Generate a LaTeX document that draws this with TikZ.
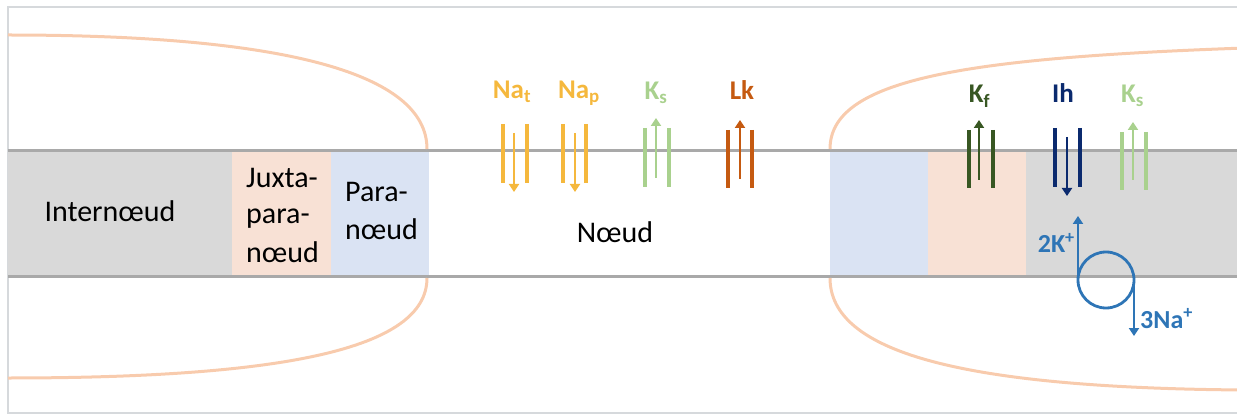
\documentclass[tikz,border=0pt]{standalone}
\usepackage{fontspec}
\setmainfont{Carlito}
\usetikzlibrary{arrows.meta}

\definecolor{bandgrey}{HTML}{D9D9D9}
\definecolor{bandline}{HTML}{A9A9A9}
\definecolor{juxtafill}{HTML}{F8E1D5}
\definecolor{parafill}{HTML}{DAE3F3}
\definecolor{myelin}{HTML}{F8CBAD}
\definecolor{framegrey}{HTML}{D6D9DC}
\definecolor{nacol}{HTML}{F5B83D}
\definecolor{kscol}{HTML}{A9D18E}
\definecolor{lkcol}{HTML}{C55A11}
\definecolor{kfcol}{HTML}{385723}
\definecolor{ihcol}{HTML}{0B2A6E}
\definecolor{pumpcol}{HTML}{2E75B6}

\tikzset{
  membrane/.style={bandline, line width=3pt},
  sheath/.style={myelin, line width=3pt},
  chanbar/.style={line width=3.5pt},
  flux/.style={line width=2.3pt, -{Triangle[width=10pt,length=8pt]}},
  pumpline/.style={pumpcol, line width=2.8pt},
  region/.style={inner sep=0pt, font=\fontsize{30}{36}\selectfont, anchor=base west},
  ionlabel/.style={inner sep=0pt, font=\bfseries\fontsize{27}{32}\selectfont, anchor=base},
  pumplabel/.style={inner sep=0pt, pumpcol, font=\bfseries\fontsize{26}{31}\selectfont},
}

% one channel: #1 colour, #2 left bar x, #3 right bar x, #4 bar top, #5 bar bottom,
% #6 flux x, #7 flux start y, #8 flux end y
\newcommand\ionchannel[8]{%
  \draw[chanbar, #1] (#2,#4) -- (#2,#5);
  \draw[chanbar, #1] (#3,#4) -- (#3,#5);
  \draw[flux, #1] (#6,#7) -- (#6,#8);
}

\begin{document}
\begin{tikzpicture}[x=1pt, y=-1pt]
\useasboundingbox (0,0) rectangle (1237,414);

% outer frame
\draw[framegrey, line width=1.5pt] (1245,7) -- (8,7) -- (8,413) -- (1245,413);

% axon compartments
\fill[bandgrey]  (8,151)   rectangle (232,276);
\fill[juxtafill] (232,151) rectangle (331,276);
\fill[parafill]  (331,151) rectangle (429,276);
\fill[parafill]  (830,151) rectangle (928,276);
\fill[juxtafill] (928,151) rectangle (1026,276);
\fill[bandgrey]  (1026,151) rectangle (1245,276);

% axon membrane
\draw[membrane] (8,151) -- (1245,151);
\draw[membrane] (8,276.5) -- (1245,276.5);

% myelin sheaths
\draw[sheath] (8,35) .. controls (280,35) and (427,72) .. (427,149);
\draw[sheath] (427,278) .. controls (427,350) and (280,378) .. (8,378);
\draw[sheath] (830,149) .. controls (830,80) and (960,58) .. (1245,48);
\draw[sheath] (830,278) .. controls (830,352) and (960,388) .. (1245,390);

% compartment names
\node[region, anchor=base] (inter) at (110,221.7) {Internœud};
\node[region] (jp1) at (246,188) {Juxta-};
\node[region] (jp2) at (246,224) {para-};
\node[region] (jp3) at (246,262) {nœud};
\node[region] (pn1) at (345,202) {Para-};
\node[region] (pn2) at (345,240) {nœud};
\node[region, anchor=base] (noeud) at (615,242.7) {Nœud};

% ion channels
\ionchannel{nacol}{503}{527}{124}{183}{514}{133}{192}
\ionchannel{nacol}{563}{586}{124}{183}{575}{133}{192}
\ionchannel{kscol}{645}{669}{128}{187}{656}{178}{118}
\ionchannel{lkcol}{728}{752}{130}{188}{740}{179}{120}
\ionchannel{kfcol}{969}{993}{130}{188}{979}{180}{120}
\ionchannel{ihcol}{1055}{1080}{128}{187}{1067}{137}{196}
\ionchannel{kscol}{1122}{1146}{132}{190}{1133}{180}{122}

% channel names
\node[ionlabel, nacol] (nat) at (512,99) {Na\textsubscript{t}};
\node[ionlabel, nacol] (nap) at (579,99) {Na\textsubscript{p}};
\node[ionlabel, kscol] (ks1) at (656,100) {K\textsubscript{s}};
\node[ionlabel, lkcol] (lk) at (742,100) {Lk};
\node[ionlabel, kfcol] (kf) at (979.5,102.5) {K\textsubscript{f}};
\node[ionlabel, ihcol] (ih) at (1063,102.5) {Ih};
\node[ionlabel, kscol] (ks2) at (1132.5,102.5) {K\textsubscript{s}};

% Na/K pump
\draw[pumpline] (1106,280) circle[radius=28];
\draw[pumpline, -{Triangle[width=10pt,length=8pt]}] (1078,280) -- (1078,216);
\draw[pumpline, -{Triangle[width=10pt,length=8pt]}] (1134,280) -- (1134,336);
\node[pumplabel, anchor=base east] (kin) at (1075,253) {2K\textsuperscript{+}};
\node[pumplabel, anchor=base west] (naout) at (1140,328) {3Na\textsuperscript{+}};
\end{tikzpicture}
\end{document}
